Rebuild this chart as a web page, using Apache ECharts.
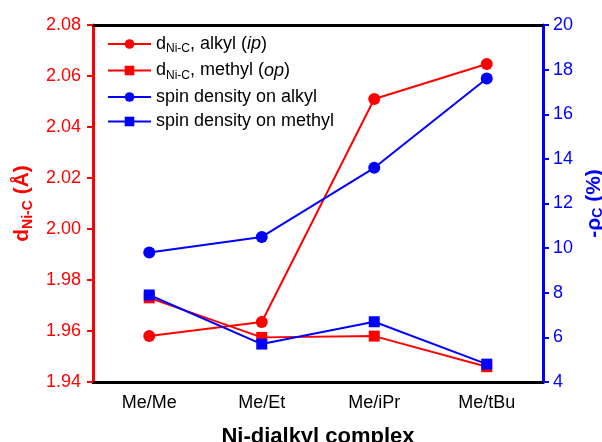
<!DOCTYPE html>
<html><head><meta charset="utf-8">
<script src="https://cdn.jsdelivr.net/npm/echarts@6/dist/echarts.min.js"></script>
<style>html,body{margin:0;padding:0;background:#fff}#c{width:602px;height:442px}</style>
</head><body><div id="c"></div>
<script>
var categories = ['Me/Me', 'Me/Et', 'Me/iPr', 'Me/tBu'];
var dAlkyl = [1.958, 1.9635, 2.051, 2.0647];
var dMethyl = [1.973, 1.9575, 1.958, 1.946];
var spinAlkyl = [9.8, 10.5, 13.6, 17.6];
var spinMethyl = [7.9, 5.7, 6.7, 4.8];
var seriesNames = ['dAlkyl', 'dMethyl', 'spinAlkyl', 'spinMethyl'];

var FONT = '"Liberation Sans", Arial, sans-serif';
var chart = echarts.init(document.getElementById('c'), null, {renderer: 'canvas'});
var legendText = {
  dAlkyl: '{n|d}{sub|Ni-C}{n|, alkyl (}{i|ip}{n|)}',
  dMethyl: '{n|d}{sub|Ni-C}{n|, methyl (}{i|op}{n|)}',
  spinAlkyl: '{n|spin density on alkyl}',
  spinMethyl: '{n|spin density on methyl}'
};
function mk(name, data, color, sym, yi) {
  return {
    name: name, type: 'line', data: data, yAxisIndex: yi,
    symbol: sym, symbolSize: sym === 'circle' ? 12 : 11,
    lineStyle: {color: color, width: 2},
    itemStyle: {color: color},
    emphasis: {disabled: true}, animation: false
  };
}
chart.setOption({
  backgroundColor: '#fff',
  animation: false,
  textStyle: {fontFamily: FONT},
  grid: {left: 93, right: 59, top: 25, bottom: 60, containLabel: false, outerBoundsMode: 'none'},
  legend: {
    orient: 'vertical', left: 102, top: 30, itemWidth: 43, itemHeight: 12, itemGap: 6.5,
    data: seriesNames,
    formatter: function (n) { return legendText[n]; },
    textStyle: {
      fontFamily: FONT, color: '#000', fontSize: 18,
      rich: {
        n: {fontSize: 18, fontFamily: FONT, color: '#000'},
        i: {fontSize: 18, fontFamily: FONT, color: '#000', fontStyle: 'italic'},
        sub: {fontSize: 12, fontFamily: FONT, color: '#000', padding: [10, 0, 0, 0]}
      }
    }
  },
  xAxis: [{
    type: 'category', data: categories, position: 'bottom',
    axisLine: {lineStyle: {color: '#000', width: 3}},
    axisTick: {alignWithLabel: true, length: 5, lineStyle: {color: '#000', width: 2}},
    axisLabel: {color: '#000', fontSize: 18, fontFamily: FONT, margin: 12},
    name: 'Ni-dialkyl complex', nameLocation: 'middle', nameGap: 44,
    nameTextStyle: {color: '#000', fontSize: 22, fontWeight: 'bold', fontFamily: FONT, verticalAlign: 'top'}
  }, {
    type: 'category', data: categories, position: 'top',
    axisLine: {lineStyle: {color: '#000', width: 3}},
    axisTick: {show: false}, axisLabel: {show: false}
  }],
  yAxis: [{
    type: 'value', min: 1.94, max: 2.08, interval: 0.02, position: 'left',
    axisLine: {show: true, lineStyle: {color: '#ff0000', width: 3}},
    axisTick: {show: true, length: 6, lineStyle: {color: '#ff0000', width: 2}},
    splitLine: {show: false},
    axisLabel: {color: '#ff0000', fontSize: 18, fontFamily: FONT, margin: 12,
      formatter: function (v) { return v.toFixed(2); }},
    name: '{b|d}{s|Ni-C}{b| (Å)}', nameLocation: 'middle', nameGap: 58, nameRotate: 90,
    nameTextStyle: {color: '#ff0000', fontFamily: FONT,
      rich: {
        b: {fontSize: 21, fontWeight: 'bold', color: '#ff0000', fontFamily: FONT},
        s: {fontSize: 14, fontWeight: 'bold', color: '#ff0000', fontFamily: FONT, padding: [12, 0, 0, 0]}
      }}
  }, {
    type: 'value', min: 4, max: 20, interval: 2, position: 'right',
    axisLine: {show: true, lineStyle: {color: '#0000ff', width: 3}},
    axisTick: {show: true, length: 6, lineStyle: {color: '#0000ff', width: 2}},
    splitLine: {show: false},
    axisLabel: {color: '#0000ff', fontSize: 18, fontFamily: FONT, margin: 10},
    name: '{b|-ρ}{s|C}{b| (%)}', nameLocation: 'middle', nameGap: 36, nameRotate: 90,
    nameTextStyle: {color: '#0000ff', fontFamily: FONT,
      rich: {
        b: {fontSize: 21, fontWeight: 'bold', color: '#0000ff', fontFamily: FONT},
        s: {fontSize: 14, fontWeight: 'bold', color: '#0000ff', fontFamily: FONT, padding: [8, 0, 0, 0]}
      }}
  }],
  series: [
    mk('dAlkyl', dAlkyl, '#ff0000', 'circle', 0),
    mk('dMethyl', dMethyl, '#ff0000', 'rect', 0),
    mk('spinAlkyl', spinAlkyl, '#0000ff', 'circle', 1),
    mk('spinMethyl', spinMethyl, '#0000ff', 'rect', 1)
  ]
});
</script>
</body></html>
